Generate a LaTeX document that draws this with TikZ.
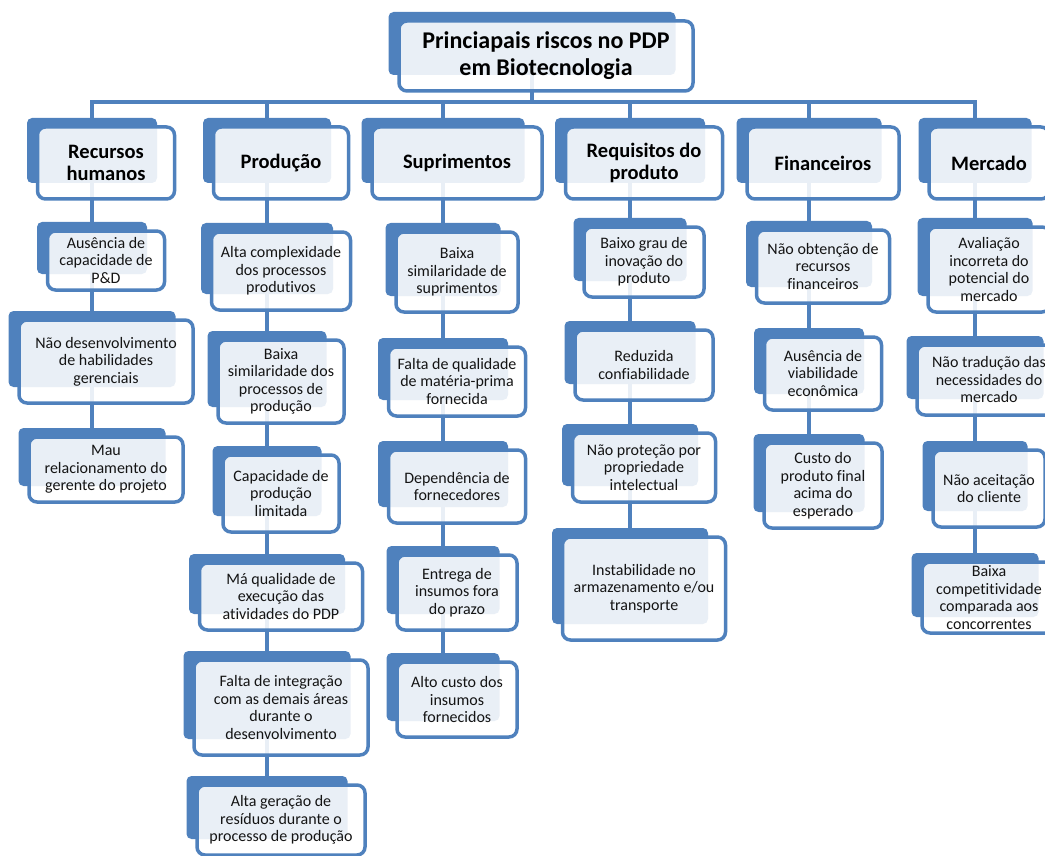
\documentclass[tikz,border=0pt]{standalone}
\usepackage{fontspec}
\setmainfont{Carlito}[Ligatures=NoCommon,RawFeature={-liga;-clig;-calt;-dlig}]
\definecolor{sblue}{HTML}{4F81BD}
\pgfdeclarelayer{lines}
\pgfdeclarelayer{backs}
\pgfsetlayers{lines,backs,main}
\tikzset{
  backbox/.style={rectangle, rounded corners=5pt, fill=sblue, draw=none, inner sep=0pt, outer sep=0pt},
  frontbox/.style={rectangle, rounded corners=8pt, draw=sblue, line width=3.5pt, fill=white, fill opacity=0.88, text opacity=1, align=center, inner sep=0pt, text=black!92, font=\fontsize{16}{17.5}\selectfont},
  headbox/.style={frontbox, text=black, font=\fontsize{20.5}{22}\selectfont\bfseries},
  titlebox/.style={frontbox, text=black, font=\fontsize{24}{27}\selectfont\bfseries},
  conn/.style={draw=sblue, line width=4pt},
}
% #1 style, #2 name, #3 column x, #4 top, #5 bottom, #6 width, #7 text
\newcommand\riskbox[7]{%
  \begin{pgfonlayer}{backs}
    \node[backbox, minimum width={(#6-7)*1pt}, minimum height={(#5-#4-7)*1pt}] (b#2) at (#3,{(#4+#5)/2-12.5}) {};
  \end{pgfonlayer}
  \node[#1, minimum width={#6*1pt}, minimum height={(#5-#4)*1pt}] (#2) at ({#3+14},{(#4+#5)/2}) {#7};
}
\begin{document}
\begin{tikzpicture}[x=1pt,y=-1pt]
\useasboundingbox (0,0) rectangle (1045,856);
% title
\riskbox{titlebox}{t}{532}{21}{91}{294}{Princiapais riscos no PDP\\em Biotecnologia}
% headers
\riskbox{headbox}{h1}{92}{127}{199}{137}{Recursos\\humanos}
\riskbox{headbox}{h2}{267}{127}{199}{135}{Produção}
\riskbox{headbox}{h3}{443}{127}{199}{170}{Suprimentos}
\riskbox{headbox}{h4}{630}{127}{199}{157}{Requisitos do\\produto}
\riskbox{headbox}{h5}{809}{127}{199}{152}{Financeiros}
\riskbox{headbox}{h6}{975}{127}{199}{120}{Mercado}
% column 1
\riskbox{frontbox}{c11}{92}{231}{290}{117}{Ausência de\\capacidade de\\P\&D}
\riskbox{frontbox}{c12}{92}{320}{403}{174}{Não desenvolvimento\\de habilidades\\gerenciais}
\riskbox{frontbox}{c13}{92}{437}{502}{154}{Mau\\relacionamento do\\gerente do projeto}
% column 2
\riskbox{frontbox}{c21}{267}{232}{310}{139}{Alta complexidade\\dos processos\\produtivos}
\riskbox{frontbox}{c22}{267}{340}{423}{126}{Baixa\\similaridade dos\\processos de\\produção}
\riskbox{frontbox}{c23}{267}{455}{532}{116}{Capacidade de\\produção\\limitada}
\riskbox{frontbox}{c24}{267}{563}{630}{163}{Má qualidade de\\execução das\\atividades do PDP}
\riskbox{frontbox}{c25}{267}{660}{755}{174}{Falta de integração\\com as demais áreas\\durante o\\desenvolvimento}
\riskbox{frontbox}{c26}{267}{785}{855}{168}{Alta geração de\\resíduos durante o\\processo de produção}
% column 3
\riskbox{frontbox}{c31}{443}{232}{312}{122}{Baixa\\similaridade de\\suprimentos}
\riskbox{frontbox}{c32}{443}{347}{416}{137}{Falta de qualidade\\de matéria-prima\\fornecida}
\riskbox{frontbox}{c33}{443}{450}{523}{137}{Dependência de\\fornecedores}
\riskbox{frontbox}{c34}{443}{555}{630}{120}{Entrega de\\insumos fora\\do prazo}
\riskbox{frontbox}{c35}{443}{662}{737}{120}{Alto custo dos\\insumos\\fornecidos}
% column 4
\riskbox{frontbox}{c41}{630}{227}{297}{120}{Baixo grau de\\inovação do\\produto}
\riskbox{frontbox}{c42}{630}{330}{400}{138}{Reduzida\\confiabilidade}
\riskbox{frontbox}{c43}{630}{433}{502}{143}{Não proteção por\\propriedade\\intelectual}
\riskbox{frontbox}{c44}{630}{537}{640}{163}{Instabilidade no\\armazenamento e/ou\\transporte}
% column 5
\riskbox{frontbox}{c51}{809}{230}{303}{133}{Não obtenção de\\recursos\\financeiros}
\riskbox{frontbox}{c52}{809}{337}{410}{117}{Ausência de\\viabilidade\\econômica}
\riskbox{frontbox}{c53}{809}{443}{528}{118}{Custo do\\produto final\\acima do\\esperado}
% column 6
\riskbox{frontbox}{c61}{975}{227}{312}{122}{Avaliação\\incorreta do\\potencial do\\mercado}
\riskbox{frontbox}{c62}{975}{345}{415}{144}{Não tradução das\\necessidades do\\mercado}
\riskbox{frontbox}{c63}{975}{450}{527}{112}{Não aceitação\\do cliente}
\riskbox{frontbox}{c64}{975}{562}{633}{134}{Baixa\\competitividade\\comparada aos\\concorrentes}
% connectors
\begin{pgfonlayer}{lines}
  \coordinate (jt) at (532,102);
  \coordinate (j1) at (92,102);
  \coordinate (j2) at (267,102);
  \coordinate (j3) at (443,102);
  \coordinate (j4) at (630,102);
  \coordinate (j5) at (809,102);
  \coordinate (j6) at (975,102);
  \draw[conn] (bh1) -- (j1) -- (j6) -- (bh6);
  \draw[conn] (bt) -- (jt);
  \draw[conn] (j2) -- (bh2);
  \draw[conn] (j3) -- (bh3);
  \draw[conn] (j4) -- (bh4);
  \draw[conn] (j5) -- (bh5);
  \draw[conn] (bh1) -- (bc11) -- (bc12) -- (bc13);
  \draw[conn] (bh2) -- (bc21) -- (bc22) -- (bc23) -- (bc24) -- (bc25) -- (bc26);
  \draw[conn] (bh3) -- (bc31) -- (bc32) -- (bc33) -- (bc34) -- (bc35);
  \draw[conn] (bh4) -- (bc41) -- (bc42) -- (bc43) -- (bc44);
  \draw[conn] (bh5) -- (bc51) -- (bc52) -- (bc53);
  \draw[conn] (bh6) -- (bc61) -- (bc62) -- (bc63) -- (bc64);
\end{pgfonlayer}
\end{tikzpicture}
\end{document}
